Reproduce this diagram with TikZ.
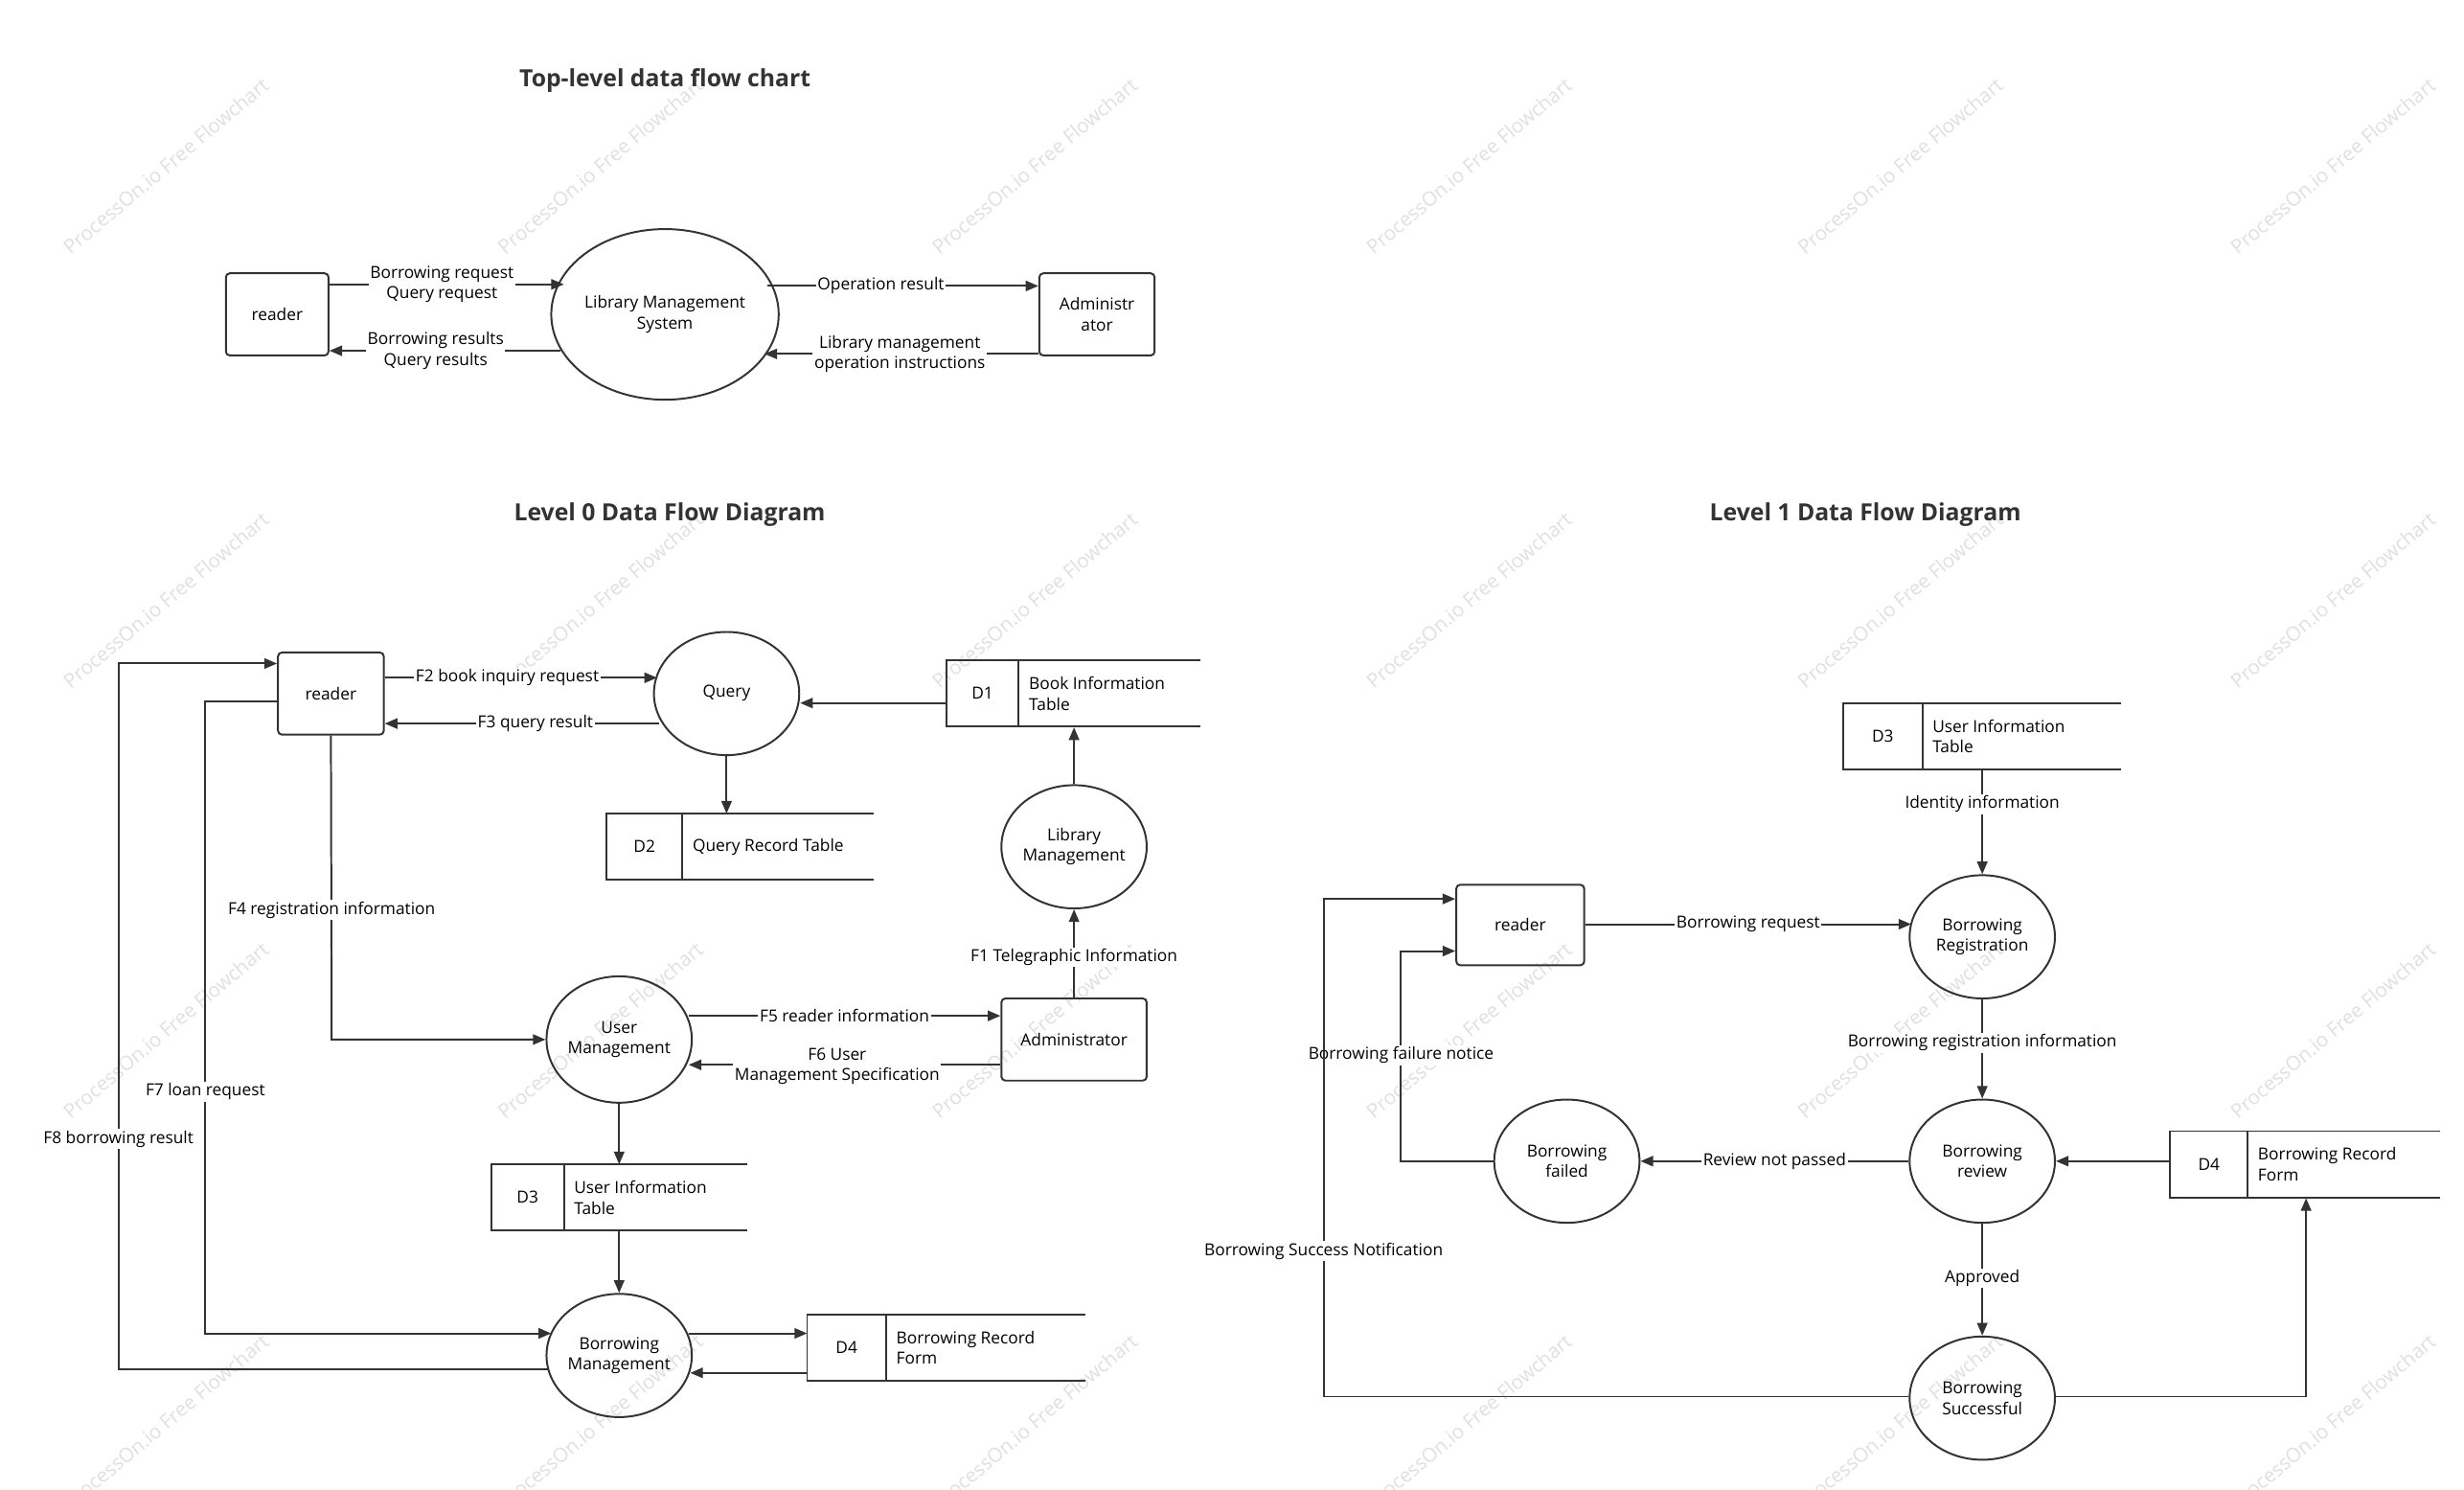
\documentclass[tikz,border=0pt]{standalone}
\usepackage{fontspec}
\setmainfont{Open Sans}
\usetikzlibrary{shapes.geometric,arrows.meta,calc}
\tikzset{
  ln/.style={draw=black!80, line width=1.2pt},
  ar/.style={ln,-{Triangle[length=8pt,width=6.5pt]}},
  ent/.style={ln, rectangle, rounded corners=2.5pt, align=center, font=\fontsize{10.5}{13}\selectfont},
  proc/.style={ln, ellipse, inner sep=0pt, minimum width=92pt, minimum height=78pt, align=center, font=\fontsize{10.5}{13}\selectfont},
  lbl/.style={fill=white, inner sep=1pt, align=center, font=\fontsize{10.5}{13}\selectfont},
  ttl/.style={font=\bfseries\fontsize{15}{18}\selectfont, text=black!80},
  wm/.style={rotate=40, text=black!12, font=\fontsize{12.5}{15}\selectfont},
}
\newcommand\dstore[8]{% name x1 x2 xdiv ytop ybot id text
  \node[inner sep=0pt, minimum width={#3-#2}, minimum height={#6-#5}, anchor=north west] (#1) at (#2,#5) {};
  \draw[ln] (#3,#5) -- (#2,#5) -- (#2,#6) -- (#3,#6);
  \draw[ln] (#4,#5) -- (#4,#6);
  \node[font=\fontsize{10.5}{13}\selectfont] (#1id) at ({(#2+#4)/2},{(#5+#6)/2}) {#7};
  \node[font=\fontsize{10.5}{13}\selectfont, align=left, anchor=west] (#1tx) at ({#4+3},{(#5+#6)/2}) {#8};
}
\begin{document}
\begin{tikzpicture}[x=1pt,y=-1pt]
\useasboundingbox[fill=white] (0,0) rectangle (1560,942.6);
% watermarks
\foreach \x in {105,380,655,930,1203,1477}
  \foreach \y in {105,380,652,900}
    \node[wm] at (\x,\y) {ProcessOn.io Free Flowchart};

% ---------- Top level ----------
\node[ttl] (t0) at (421,51) {Top-level data flow chart};
\node[ent, minimum width=65pt, minimum height=52pt] (r0) at (175.5,199) {reader};
\node[proc, minimum width=132pt, minimum height=108pt] (lms) at (421,199) {Library Management\\System};
\node[ent, minimum width=73pt, minimum height=52pt] (ad0) at (694.5,199) {Administr\\ator};
\draw[ar] (r0.east |- 0,180) -- (357,180) node[lbl, midway, xshift=-3pt] {Borrowing request\\Query request};
\draw[ar] (355,222) -- (r0.east |- 0,222) node[lbl, midway, xshift=-6pt] {Borrowing results\\Query results};
\draw[ar] (486,181) -- (ad0.west |- 0,181) node[lbl, midway, xshift=-14pt] {Operation result};
\draw[ar] (ad0.west |- 0,224) -- (484,224) node[lbl, midway, xshift=-1pt] {Library management\\operation instructions};

% ---------- Level 0 ----------
\node[ttl] (t1) at (424,326) {Level 0 Data Flow Diagram};
\node[ent, minimum width=67pt, minimum height=52pt] (r1) at (209.5,439) {reader};
\node[proc] (q) at (460,439) {Query};
\dstore{d1}{599}{760}{645}{418}{460}{D1}{Book Information\\Table}
\dstore{d2}{384}{553}{432}{515}{557}{D2}{Query Record Table}
\node[proc] (lm) at (680,536) {Library\\Management};
\node[ent, minimum width=92pt, minimum height=52pt] (ad1) at (680,658) {Administrator};
\node[proc, minimum height=80pt] (um) at (392,658) {User\\Management};
\dstore{d3}{311}{473}{357}{737}{779}{D3}{User Information\\Table}
\node[proc] (bm) at (392,858) {Borrowing\\Management};
\dstore{d4}{511}{687}{561}{832}{874}{D4}{Borrowing Record\\Form}

\draw[ar] (r1.east |- 0,429) -- (416,429) node[lbl, pos=0.45] {F2 book inquiry request};
\draw[ar] (417,458) -- (r1.east |- 0,458) node[lbl, pos=0.45] {F3 query result};
\draw[ar] (d1.west |- 0,445) -- (q.east |- 0,445);
\draw[ar] (q.south) -- (q.south |- d2.north);
\draw[ar] (lm.north) -- (lm.north |- d1.south);
\draw[ar] (ad1.north) -- (lm.south);
\node[lbl] at (680,606) {F1 Telegraphic Information};
\draw[ar] (r1.south) -- (210,658) -- (um.west);
\node[lbl] at (210,576) {F4 registration information};
\draw[ar] (436,643) -- (ad1.west |- 0,643) node[lbl, midway] {F5 reader information};
\draw[ar] (ad1.west |- 0,674) -- (436,674);
\node[lbl] at (530,675) {F6 User\\Management Specification};
\draw[ar] (um.south) -- (um.south |- d3.north);
\draw[ar] (bm.north |- d3.south) -- (bm.north);
\coordinate (f7a) at (130,444);
\coordinate (f7b) at (130,844);
\draw[ar] (r1.west |- f7a) -- (f7a) -- (f7b) -- (349,844);
\node[lbl] at (130,691) {F7 loan request};
\coordinate (f8a) at (75,867);
\coordinate (f8b) at (75,420);
\draw[ar] (347,867) -- (f8a) -- (f8b) -- (r1.west |- f8b);
\node[lbl] at (75,721) {F8 borrowing result};
\draw[ar] (436,844) -- (d4.west |- 0,844);
\draw[ar] (d4.west |- 0,869) -- (437,869);

% ---------- Level 1 ----------
\node[ttl] (t2) at (1181,326) {Level 1 Data Flow Diagram};
\dstore{e3}{1167}{1343}{1217}{445}{487}{D3}{User Information\\Table}
\node[proc] (br) at (1255,593) {Borrowing\\Registration};
\node[ent, minimum width=81pt, minimum height=51pt] (r2) at (962.5,585.5) {reader};
\node[proc] (rv) at (1255,735) {Borrowing\\review};
\node[proc] (bf) at (992,735) {Borrowing\\failed};
\dstore{e4}{1374}{1545}{1423}{716}{758}{D4}{Borrowing Record\\Form}
\node[proc] (bs) at (1255,885) {Borrowing\\Successful};

\draw[ar] (e3.south -| br) -- (br.north);
\node[lbl] at (1255,509) {Identity information};
\draw[ar] (r2.east |- 0,585) -- (1210,585) node[lbl, midway] {Borrowing request};
\draw[ar] (br.south) -- (rv.north);
\node[lbl] at (1255,660) {Borrowing registration information};
\draw[ar] (e4.west |- rv) -- (rv.east);
\draw[ar] (rv.west) -- (bf.east) node[lbl, midway] {Review not passed};
\coordinate (fa) at (887,735);
\coordinate (fb) at (887,602);
\draw[ar] (bf.west) -- (fa) -- (fb) -- (r2.west |- fb);
\node[lbl] at (887,668) {Borrowing failure notice};
\draw[ar] (rv.south) -- (bs.north);
\node[lbl] at (1255,809) {Approved};
\coordinate (sa) at (838,884);
\coordinate (sb) at (838,569);
\draw[ar] (bs.west |- sa) -- (sa) -- (sb) -- (r2.west |- sb);
\node[lbl] at (838,792) {Borrowing Success Notification};
\coordinate (sc) at (1460,884);
\draw[ar] (bs.east |- sc) -- (sc) -- (sc |- e4.south);
\end{tikzpicture}
\end{document}
